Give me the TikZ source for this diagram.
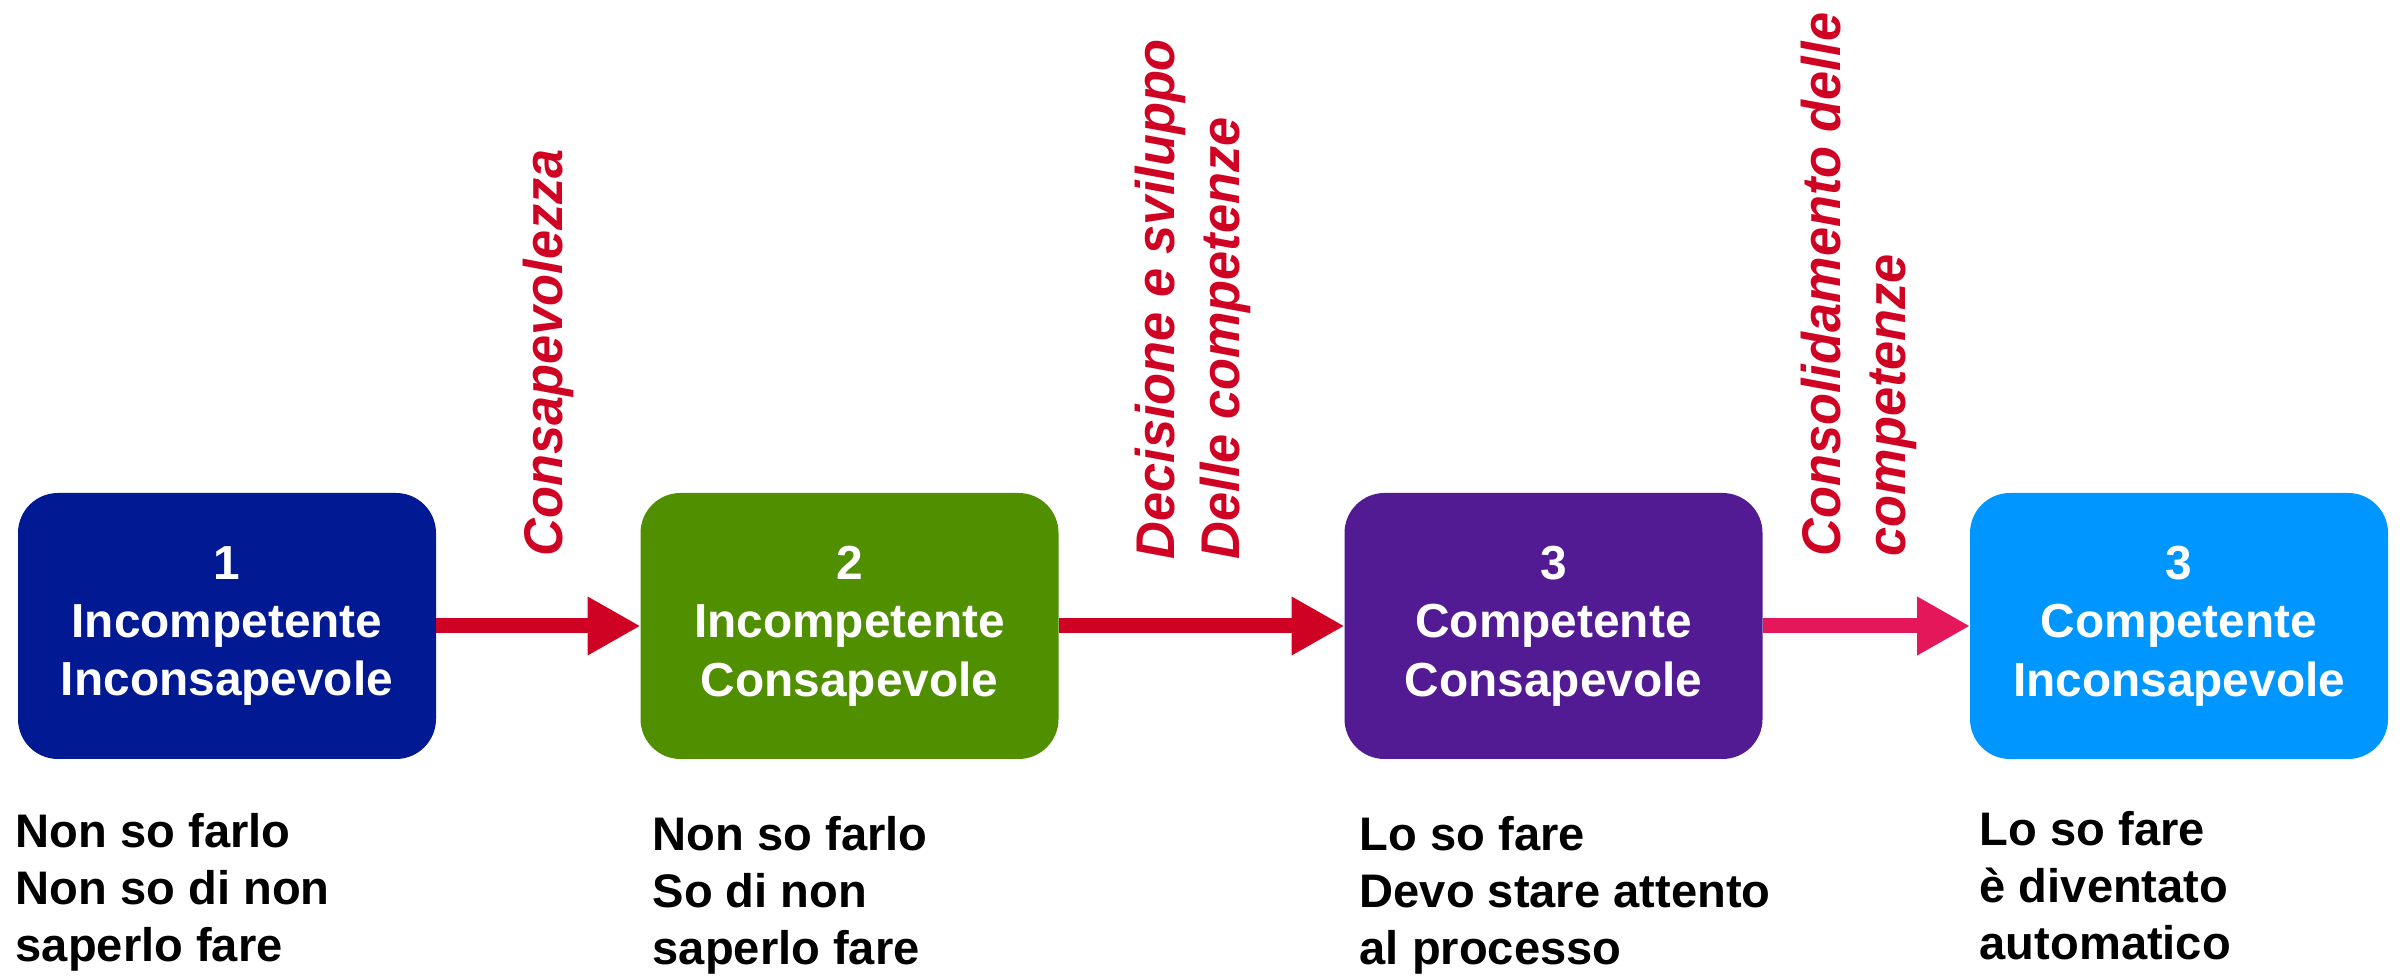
\documentclass[tikz,border=0pt]{standalone}
\usepackage{fontspec}
\setmainfont{Liberation Sans}
\newfontfamily\phasefont[FakeStretch=0.96]{Liberation Sans}
\usetikzlibrary{arrows.meta}

\definecolor{navystage}{HTML}{011993}
\definecolor{greenstage}{HTML}{4F8F00}
\definecolor{purplestage}{HTML}{531B93}
\definecolor{aquastage}{HTML}{0096FF}
\definecolor{arrowred}{HTML}{D00223}
\definecolor{arrowpink}{HTML}{E4175A}

\tikzset{
    stage/.style={rounded corners=0.4cm, minimum width=4.18cm, minimum height=2.66cm,
        inner sep=0pt, outer sep=0pt, text=white, align=center,
        font=\bfseries\fontsize{13.6}{16.6}\selectfont,
        execute at begin node={\rule{0pt}{12.5pt}}},
    desc/.style={anchor=north west, align=left, inner sep=0pt,
        font=\bfseries\fontsize{13.4}{16.2}\selectfont},
    phase/.style={rotate=90, anchor=west, align=left, inner sep=0pt, text=arrowred,
        font=\phasefont\bfseries\itshape\fontsize{15.5}{18.3}\selectfont},
    move/.style={line width=0.15cm, -{Triangle[length=0.53cm,width=0.55cm]}}
}

\begin{document}
\begin{tikzpicture}
    \useasboundingbox (0,0) rectangle (24,9.76);
    % the four stages
    \node[stage, fill=navystage] (s1) at (2.27,3.50) {1\\Incompetente\\Inconsapevole};
    \node[stage, fill=greenstage] (s2) at (8.495,3.50) {2\\Incompetente\\Consapevole};
    \node[stage, fill=purplestage] (s3) at (15.535,3.50) {3\\Competente\\Consapevole};
    \node[stage, fill=aquastage] (s4) at (21.79,3.50) {3\\Competente\\Inconsapevole};
    % transitions
    \draw[move, arrowred] (s1) -- (s2);
    \draw[move, arrowred] (s2) -- (s3);
    \draw[move, arrowpink] (s3) -- (s4);
    \node[phase] (p1) at (5.485,4.19) {Consapevolezza};
    \node[phase] (p2) at (11.93,4.16) {Decisione e sviluppo\\Delle competenze};
    \node[phase] (p3) at (18.59,4.19) {Consolidamento delle\\competenze};
    % what each stage means
    \node[desc] (d1) at (0.15,1.635) {Non so farlo\\Non so di non\\saperlo fare};
    \node[desc] (d2) at (6.52,1.605) {Non so farlo\\So di non\\saperlo fare};
    \node[desc] (d3) at (13.59,1.605) {Lo so fare\\Devo stare attento\\al processo};
    \node[desc] (d4) at (19.79,1.65) {Lo so fare\\è diventato\\automatico};
\end{tikzpicture}
\end{document}
